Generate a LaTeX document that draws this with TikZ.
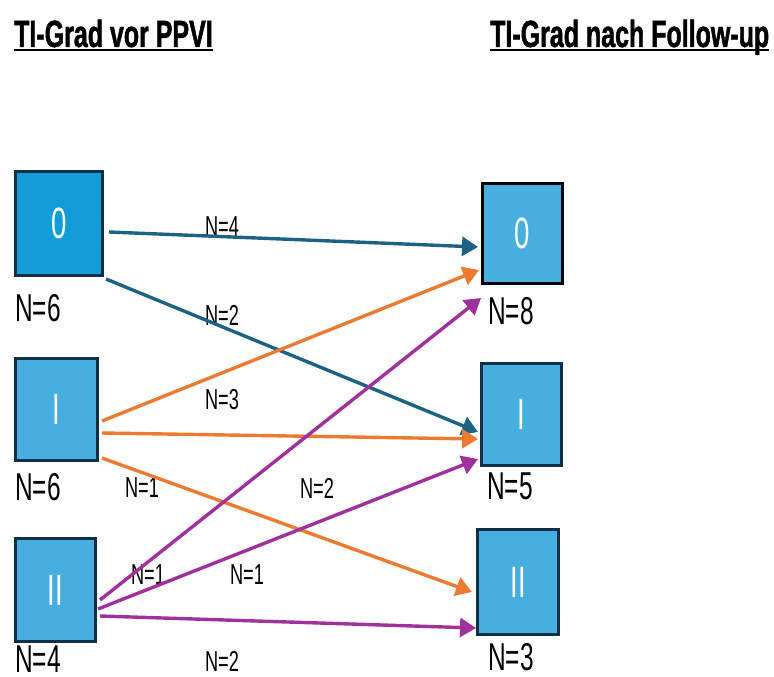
\documentclass[tikz,border=0pt]{standalone}
\usepackage{fontspec}
\setmainfont{Liberation Sans}[FakeStretch=0.63]
\newfontfamily\headfont{Liberation Sans}[FakeStretch=0.66, FakeBold=1.2]
\usetikzlibrary{arrows.meta, positioning}
\definecolor{boxblue}{HTML}{46AFE0}
\definecolor{boxblue0}{HTML}{129CD8}
\definecolor{boxedge}{HTML}{0E2F45}
\definecolor{flowblue}{HTML}{1B6285}
\definecolor{floworange}{HTML}{EC7A30}
\definecolor{flowpurple}{HTML}{A0309B}

\begin{document}
\begin{tikzpicture}[x=1bp, y=-1bp,
  grade/.style={draw=boxedge, line width=3bp, fill=boxblue, text=white, inner sep=0pt, font=\fontsize{44}{44}\selectfont},
  count/.style={inner sep=0pt, font=\fontsize{39}{39}\selectfont},
  num/.style={inner sep=0pt, font=\fontsize{29}{29}\selectfont},
  title/.style={inner sep=0pt, anchor=base west, font=\headfont\bfseries\fontsize{38}{38}\selectfont},
  flow/.style={line width=3.4bp, -{Triangle[length=16bp, width=19bp]}}]

\useasboundingbox (0,0) rectangle (774,677);

% headings
\node[title] (pre) at (14,47) {TI-Grad vor PPVI};
\node[title] (post) at (490,47) {TI-Grad nach Follow-up};
\draw[line width=2.5bp] ([yshift=-3bp]pre.base west) -- ([yshift=-3bp]pre.base east);
\draw[line width=2.5bp] ([yshift=-3bp]post.base west) -- ([yshift=-3bp]post.base east);

% grades before
\node[grade, fill=boxblue0, minimum width=87bp, minimum height=104bp] (l0) at (59,223.5) {0};
\node[grade, minimum width=82bp, minimum height=102bp] (l1) at (56.5,409.5) {I};
\node[grade, minimum width=80bp, minimum height=103bp] (l2) at (55.5,590) {II};
% grades after
\node[grade, draw=black, minimum width=80bp, minimum height=100bp] (r0) at (522.5,233.5) {0};
\node[grade, minimum width=80bp, minimum height=102bp] (r1) at (521.5,414.5) {I};
\node[grade, minimum width=81bp, minimum height=105bp] (r2) at (518,582) {II};

\node[count, below right=17bp and 1bp of l0.south west] (nl0) {N=6};
\node[count, below right=11bp and 1bp of l1.south west] (nl1) {N=6};
\node[count, below right=3bp and 1bp of l2.south west] (nl2) {N=4};
\node[count, below right=12bp and 7bp of r0.south west] (nr0) {N=8};
\node[count, below right=6bp and 7bp of r1.south west] (nr1) {N=5};
\node[count, below right=7bp and 12bp of r2.south west] (nr2) {N=3};

% patient numbers per transition
\node[num] (f00) at (222,227) {N=4};
\node[num] (f01) at (222,315) {N=2};
\node[num] (f10) at (222,400) {N=3};
\node[num] (f11) at (142,488) {N=1};
\node[num] (f12) at (317,488) {N=2};
\node[num] (f20) at (148,575) {N=1};
\node[num] (f21) at (247,575) {N=1};
\node[num] (f22) at (222,661) {N=2};

\draw[flow, flowblue] ([xshift=5bp, yshift=-8.5bp]l0.east) -- ([xshift=-3bp, yshift=-13.5bp]r0.west);
\draw[flow, flowblue] ([xshift=2bp, yshift=-2bp]l0.south east) -- ([xshift=-2bp, yshift=-17.5bp]r1.west);
\draw[flow, floworange] ([xshift=3bp, yshift=-11.5bp]l1.east) -- ([xshift=-2bp, yshift=-36.5bp]r0.west);
\draw[flow, floworange] ([xshift=3bp, yshift=-23.5bp]l1.east) -- ([xshift=-2bp, yshift=-24.5bp]r1.west);
\draw[flow, floworange] ([xshift=3bp, yshift=-48.5bp]l1.east) -- ([xshift=-4bp, yshift=-10bp]r2.west);
\draw[flow, flowpurple] ([xshift=3bp, yshift=-10bp]l2.east) -- ([yshift=-13bp]r0.south west);
\draw[flow, flowpurple] ([xshift=1bp, yshift=-19bp]l2.east) -- ([xshift=-2bp, yshift=-44.5bp]r1.west);
\draw[flow, flowpurple] ([xshift=3bp, yshift=-26bp]l2.east) -- ([yshift=-46bp]r2.west);

\end{tikzpicture}
\end{document}
